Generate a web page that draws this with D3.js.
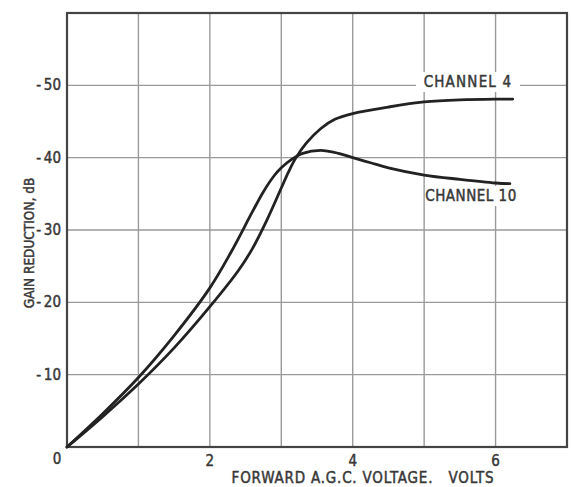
<!DOCTYPE html>
<html>
<head>
<meta charset="utf-8">
<script src="https://cdn.jsdelivr.net/npm/d3@7"></script>
<style>
  html, body { margin: 0; padding: 0; background: #fff; }
  svg { display: block; }
  text { font-family: "Liberation Sans Narrow", "DejaVu Sans Condensed", "Arial Narrow", sans-serif; fill: #383838; stroke: #383838; stroke-width: 0.45px; }
</style>
</head>
<body>
<svg id="chart" width="571" height="487"></svg>
<script>
// Forward AGC voltage (volts) and gain reduction (dB) for each channel
const ch4Volts  = [0, 0.5, 1.0, 1.5, 2.0, 2.4, 2.6, 2.8, 3.0, 3.1, 3.2, 3.35, 3.55, 3.75, 4.0, 4.5, 5.0, 5.5, 6.0, 6.24];
const ch4Gain   = [0, -4.2, -8.7, -13.7, -19.4, -24.4, -27.5, -31.4, -35.8, -38.0, -39.9, -42.0, -44.0, -45.3, -46.1, -47.0, -47.7, -48.0, -48.1, -48.1];
const ch10Volts = [0, 0.5, 1.0, 1.5, 2.0, 2.3, 2.6, 2.75, 2.9, 3.0, 3.15, 3.3, 3.55, 3.8, 4.0, 4.25, 4.5, 5.0, 5.5, 6.0, 6.2];
const ch10Gain  = [0, -4.6, -9.6, -15.4, -22.0, -27.0, -32.6, -35.3, -37.5, -38.6, -39.8, -40.6, -41.0, -40.6, -40.0, -39.3, -38.6, -37.6, -37.0, -36.5, -36.4];

const xTicks = [1, 2, 3, 4, 5, 6];
const xTickLabels = [2, 4, 6];
const yTicks = [-10, -20, -30, -40, -50];

const svg = d3.select("#chart");
const plotLeft = 67, plotRight = 567, plotTop = 13, plotBottom = 447;

const x = d3.scaleLinear().domain([0, 7]).range([plotLeft, plotRight]);
const y = d3.scaleLinear().domain([0, -60]).range([plotBottom, plotTop]);

// grid
const grid = svg.append("g").attr("stroke", "#9a9a9a").attr("stroke-width", 1.4);
grid.selectAll("line.v").data(xTicks).join("line")
  .attr("class", "v")
  .attr("x1", d => x(d)).attr("x2", d => x(d))
  .attr("y1", plotTop).attr("y2", plotBottom);
grid.selectAll("line.h").data(yTicks).join("line")
  .attr("class", "h")
  .attr("x1", plotLeft).attr("x2", plotRight)
  .attr("y1", d => y(d)).attr("y2", d => y(d));

// frame
svg.append("rect")
  .attr("x", plotLeft).attr("y", plotTop)
  .attr("width", plotRight - plotLeft).attr("height", plotBottom - plotTop)
  .attr("fill", "none").attr("stroke", "#444").attr("stroke-width", 2.2);

// curves
const line = d3.line()
  .x(d => x(d[0])).y(d => y(d[1]))
  .curve(d3.curveCatmullRom.alpha(0.5));

const series = [
  d3.zip(ch4Volts, ch4Gain),
  d3.zip(ch10Volts, ch10Gain)
];
svg.selectAll("path.curve").data(series).join("path")
  .attr("class", "curve")
  .attr("d", line)
  .attr("fill", "none")
  .attr("stroke", "#222")
  .attr("stroke-width", 2.8)
  .attr("stroke-linecap", "round");

// curve labels on white patches
function curveLabel(text, cx, cy, w, spacing) {
  svg.append("rect")
    .attr("x", cx - w / 2).attr("y", cy - 10)
    .attr("width", w).attr("height", 20)
    .attr("fill", "#fff");
  svg.append("text")
    .attr("x", cx).attr("y", cy)
    .attr("text-anchor", "middle")
    .attr("dominant-baseline", "central")
    .attr("font-size", 15)
    .attr("letter-spacing", spacing)
    .text(text);
}
curveLabel("CHANNEL 4", 468, 82, 104, 1.2);
curveLabel("CHANNEL 10", 471, 196, 92, 0.5);

// y tick labels
svg.selectAll("text.ytick").data(yTicks).join("text")
  .attr("class", "ytick")
  .attr("x", plotLeft - 6)
  .attr("y", d => y(d))
  .attr("text-anchor", "end")
  .attr("dominant-baseline", "central")
  .attr("font-size", 15)
  .text(d => "-\u2009" + Math.abs(d));

// x tick labels
svg.selectAll("text.xtick").data(xTickLabels).join("text")
  .attr("class", "xtick")
  .attr("x", d => x(d))
  .attr("y", plotBottom + 14)
  .attr("text-anchor", "middle")
  .attr("dominant-baseline", "central")
  .attr("font-size", 15)
  .text(d => d);

// origin label
svg.append("text")
  .attr("x", plotLeft - 10).attr("y", plotBottom + 12)
  .attr("text-anchor", "middle")
  .attr("dominant-baseline", "central")
  .attr("font-size", 15)
  .text("0");

// axis titles
svg.append("text")
  .attr("x", 363).attr("y", 478)
  .attr("text-anchor", "middle")
  .attr("dominant-baseline", "central")
  .attr("font-size", 15)
  .attr("letter-spacing", 0.8)
  .attr("xml:space", "preserve")
  .text("FORWARD A.G.C. VOLTAGE.   VOLTS");

svg.append("text")
  .attr("transform", "translate(29,243) rotate(-90)")
  .attr("text-anchor", "middle")
  .attr("dominant-baseline", "central")
  .attr("font-size", 13.5)
  .attr("letter-spacing", 0)
  .text("GAIN REDUCTION, dB");
</script>
</body>
</html>
